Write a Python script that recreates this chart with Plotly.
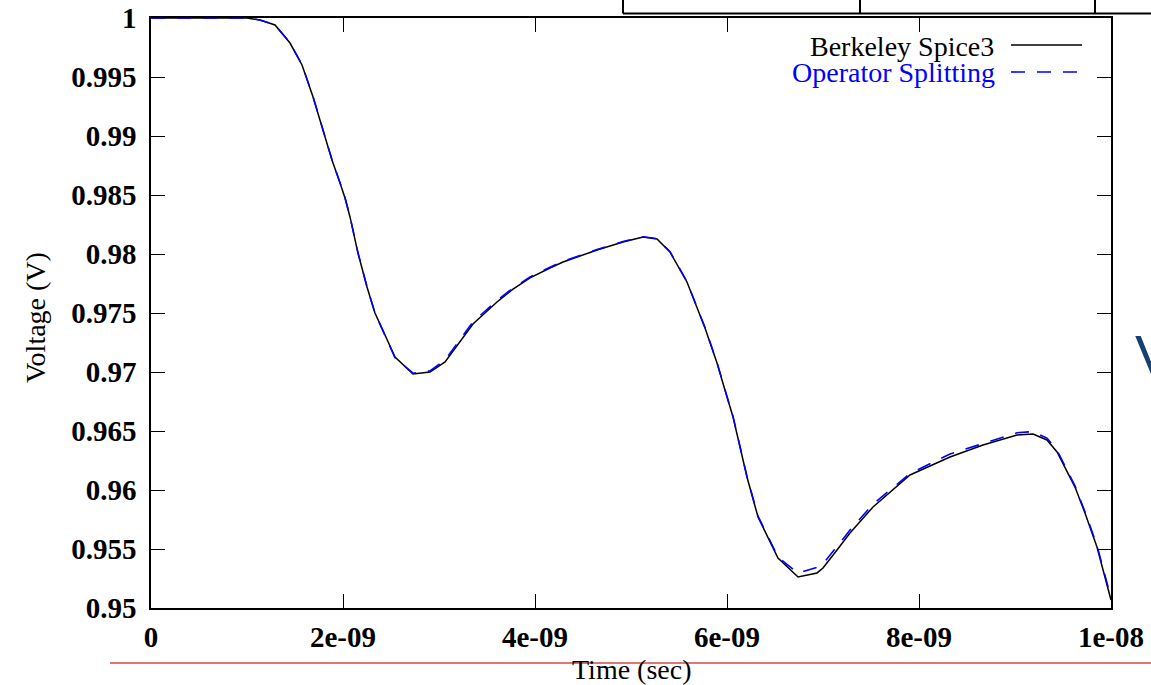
import numpy as np
import plotly.graph_objects as go

# ---- data (time in ns, voltage in V) ----
time_ns = [0.0, 0.6, 1.0, 1.135, 1.292, 1.448, 1.573, 1.688, 1.781, 1.885, 1.969, 2.021,
           2.073, 2.156, 2.250, 2.333, 2.542, 2.729, 2.906, 3.063, 3.354, 3.604, 3.771,
           3.948, 4.156, 4.292, 4.646, 4.917, 5.125, 5.271, 5.406, 5.583, 5.771, 5.896,
           6.000, 6.063, 6.208, 6.323, 6.531, 6.740, 6.938, 7.000, 7.146, 7.281, 7.521,
           7.906, 8.323, 8.667, 9.021, 9.188, 9.333, 9.438, 9.625, 9.729, 9.854, 10.0]

spice3_v = [1.0, 1.0, 1.0, 0.99983, 0.99941, 0.99788, 0.99602, 0.99331, 0.99076, 0.98797,
            0.98602, 0.98475, 0.98314, 0.98008, 0.97720, 0.97500, 0.97127, 0.96983,
            0.97000, 0.97085, 0.97407, 0.97593, 0.97703, 0.97797, 0.97881, 0.97932,
            0.98034, 0.98102, 0.98144, 0.98127, 0.98017, 0.97763, 0.97373, 0.97076,
            0.96788, 0.96619, 0.96110, 0.95771, 0.95424, 0.95263, 0.95297, 0.95339,
            0.95492, 0.95636, 0.95856, 0.96127, 0.96280, 0.96381, 0.96466, 0.96475,
            0.96424, 0.96322, 0.96025, 0.95805, 0.95517, 0.95068]

splitting_v = [1.0, 1.0, 1.0, 0.99983, 0.99941, 0.99790, 0.99605, 0.99333, 0.99078, 0.98800,
               0.98604, 0.98477, 0.98316, 0.98010, 0.97722, 0.97500, 0.97120, 0.96990,
               0.97010, 0.97100, 0.97425, 0.97605, 0.97712, 0.97805, 0.97888, 0.97938,
               0.98038, 0.98106, 0.98146, 0.98130, 0.98020, 0.97766, 0.97376, 0.97080,
               0.96792, 0.96622, 0.96115, 0.95778, 0.95432, 0.95295, 0.95345, 0.95375,
               0.95522, 0.95660, 0.95880, 0.96140, 0.96305, 0.96395, 0.96485, 0.96495,
               0.96440, 0.96335, 0.96035, 0.95815, 0.95530, 0.95085]

x_tick_vals = [0, 2e-9, 4e-9, 6e-9, 8e-9, 1e-8]
x_tick_text = ["0", "2e-09", "4e-09", "6e-09", "8e-09", "1e-08"]
y_tick_vals = [0.95, 0.955, 0.96, 0.965, 0.97, 0.975, 0.98, 0.985, 0.99, 0.995, 1.0]
y_tick_text = ["0.95", "0.955", "0.96", "0.965", "0.97", "0.975", "0.98", "0.985",
               "0.99", "0.995", "1"]

series_names = ["Berkeley Spice3", "Operator Splitting"]

t_sec = np.array(time_ns) * 1e-9

W, H = 1151, 685
L, R, T, B = 151, 40, 18, 77
PW, PH = W - L - R, H - T - B


def px(xp):
    return (xp - L) / PW


def py(yp):
    return (H - B - yp) / PH


FONT = "Liberation Serif, Times New Roman, serif"

fig = go.Figure()
fig.add_trace(go.Scatter(x=t_sec, y=spice3_v, mode="lines", name=series_names[0],
                         line=dict(color="black", width=1.5), showlegend=False))
fig.add_trace(go.Scatter(x=t_sec, y=splitting_v, mode="lines", name=series_names[1],
                         line=dict(color="#0000ff", width=1.6, dash="14px,12px"),
                         showlegend=False))

axis_common = dict(showline=True, linecolor="black", linewidth=1.5, mirror="ticks",
                   ticks="inside", ticklen=14, tickwidth=1.3, tickcolor="black",
                   showgrid=False, zeroline=False, automargin=False,
                   tickfont=dict(family=FONT, size=29, color="black", weight="bold"))

fig.update_xaxes(range=[0, 1e-8], tickvals=x_tick_vals, ticktext=x_tick_text,
                 ticklabelstandoff=2, **axis_common)
fig.update_yaxes(range=[0.95, 1.0], tickvals=y_tick_vals, ticktext=y_tick_text,
                 ticklabelstandoff=7, **axis_common)

annotations = [
    dict(text="Voltage (V)", x=px(35), y=py(318), xref="paper", yref="paper",
         xanchor="center", yanchor="middle",
         textangle=-90, showarrow=False, font=dict(family=FONT, size=28, color="black")),
    dict(text="Time (sec)", x=px(632), y=py(669), xref="paper", yref="paper",
         xanchor="center", yanchor="middle",
         showarrow=False, font=dict(family=FONT, size=28, color="black")),
    dict(text=series_names[0], x=px(996), y=py(46), xref="paper", yref="paper",
         xanchor="right", yanchor="middle",
         showarrow=False, font=dict(family=FONT, size=28, color="black")),
    dict(text=series_names[1], x=px(997), y=py(72), xref="paper", yref="paper",
         xanchor="right", yanchor="middle",
         showarrow=False, font=dict(family=FONT, size=28, color="#0000ff")),
    dict(text="V", x=px(1133), y=py(354), xref="paper", yref="paper", xanchor="left",
         yanchor="middle",
         showarrow=False, font=dict(family="Liberation Sans, Arial, sans-serif", size=56,
                                     color="#16406f")),
]

shapes = [
    # legend line samples
    dict(type="line", xref="paper", yref="paper", x0=px(1011), x1=px(1082), y0=py(45), y1=py(45),
         line=dict(color="black", width=1.5)),
    dict(type="line", xref="paper", yref="paper", x0=px(1011), x1=px(1082), y0=py(72), y1=py(72),
         line=dict(color="#0000ff", width=1.6, dash="14px,12px")),
    # partial table at the top of the slide
    dict(type="line", xref="paper", yref="paper", x0=px(623), x1=px(1160), y0=py(13.5), y1=py(13.5),
         line=dict(color="black", width=2)),
    dict(type="line", xref="paper", yref="paper", x0=px(623), x1=px(623), y0=py(-5), y1=py(13.5),
         line=dict(color="black", width=2)),
    dict(type="line", xref="paper", yref="paper", x0=px(860), x1=px(860), y0=py(-5), y1=py(13.5),
         line=dict(color="black", width=2)),
    dict(type="line", xref="paper", yref="paper", x0=px(1095), x1=px(1095), y0=py(-5), y1=py(13.5),
         line=dict(color="black", width=2)),
    # red rule under the chart
    dict(type="line", xref="paper", yref="paper", x0=px(110), x1=px(1160), y0=py(663), y1=py(663),
         line=dict(color="#e07575", width=2), layer="above"),
]

fig.update_layout(width=W, height=H, margin=dict(l=L, r=R, t=T, b=B),
                  paper_bgcolor="white", plot_bgcolor="white",
                  annotations=annotations, shapes=shapes, showlegend=False)

fig.write_html("out.html")
